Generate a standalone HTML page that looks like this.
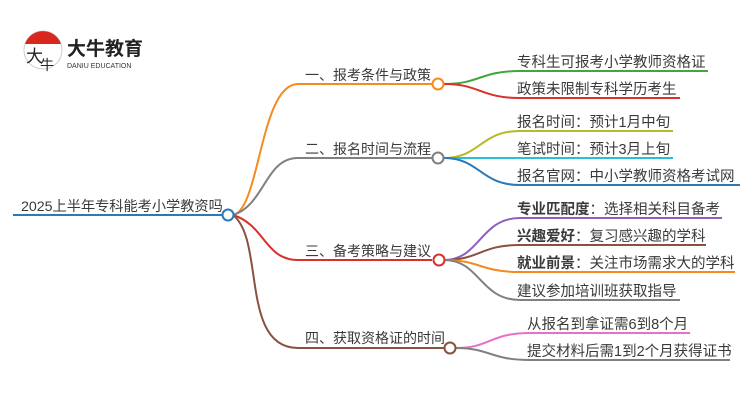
<!DOCTYPE html>
<html><head><meta charset="utf-8"><style>
html,body{margin:0;padding:0;background:#fff;width:750px;height:410px;overflow:hidden}
text{font-family:"Liberation Sans","Noto Sans CJK SC",sans-serif;fill:#3a3a3a;font-size:14.5px}
</style></head><body>
<svg width="750" height="410" viewBox="0 0 750 410" xmlns="http://www.w3.org/2000/svg">
<g>
<circle cx="43" cy="50" r="19" fill="#fff" stroke="#ccc" stroke-width="1"/>
<path d="M25 44 A19 19 0 0 1 61 44 Z" fill="#d8281e"/>
<text x="26" y="62" style="font-size:17px;fill:#222">大</text>
<text x="40" y="70" style="font-size:14px;fill:#222">牛</text>
<text x="67" y="55" style="font-size:19px;font-weight:bold;fill:#222">大牛教育</text>
<text x="67" y="68" style="font-size:7px;fill:#333">DANIU EDUCATION</text>
</g>
<g fill="none" stroke-width="2">
<path d="M13 215 H222" stroke="#2a7ab8"/>
<path d="M233 215 C260 210 260 84 298 84 H432" stroke="#f58b1f"/>
<path d="M233 215 C265 205 265 158 298 158 H432" stroke="#808080"/>
<path d="M233 215 C265 225 265 260 298 260 H432" stroke="#d9302c"/>
<path d="M233 215 C265 240 240 348 298 348 H444" stroke="#8a5040"/>
<path d="M444 84 C480 84 480 71 520 71 H708" stroke="#3ea83a"/>
<path d="M444 84 C480 84 480 98 520 98 H680" stroke="#d9302c"/>
<path d="M444 158 C480 158 480 131 520 131 H673" stroke="#b8b828"/>
<path d="M444 158 H673" stroke="#28c0d8"/>
<path d="M444 158 C480 158 480 185 520 185 H740" stroke="#2a7ab8"/>
<path d="M444 260 C480 260 480 218 520 218 H722" stroke="#9060c0"/>
<path d="M444 260 C480 260 480 245 520 245 H706" stroke="#8a5040"/>
<path d="M444 260 C480 260 480 272 520 272 H735" stroke="#f58b1f"/>
<path d="M444 260 C480 260 480 300 520 300 H680" stroke="#808080"/>
<path d="M456 348 C490 348 490 333 530 333 H690" stroke="#e870c8"/>
<path d="M456 348 C490 348 490 360 530 360 H730" stroke="#808080"/>
</g>
<g fill="#fff" stroke-width="2">
<circle cx="228" cy="215" r="5.5" stroke="#2a7ab8"/>
<circle cx="438" cy="84" r="5.5" stroke="#f58b1f"/>
<circle cx="438" cy="158" r="5.5" stroke="#808080"/>
<circle cx="439" cy="260" r="5.5" stroke="#d9302c"/>
<circle cx="450" cy="348" r="5.5" stroke="#8a5040"/>
</g>
<text x="21" y="211" style="font-size:14.2px">2025上半年专科能考小学教资吗</text>
<text x="305" y="80" style="font-size:14px">一、报考条件与政策</text>
<text x="305" y="154" style="font-size:14px">二、报名时间与流程</text>
<text x="305" y="256" style="font-size:14px">三、备考策略与建议</text>
<text x="305" y="343" style="font-size:14px">四、获取资格证的时间</text>
<text x="517" y="67">专科生可报考小学教师资格证</text>
<text x="517" y="94">政策未限制专科学历考生</text>
<text x="517" y="127">报名时间：预计1月中旬</text>
<text x="517" y="154">笔试时间：预计3月上旬</text>
<text x="517" y="181">报名官网：中小学教师资格考试网</text>
<text x="517" y="214"><tspan font-weight="bold">专业匹配度</tspan>：选择相关科目备考</text>
<text x="517" y="241"><tspan font-weight="bold">兴趣爱好</tspan>：复习感兴趣的学科</text>
<text x="517" y="268"><tspan font-weight="bold">就业前景</tspan>：关注市场需求大的学科</text>
<text x="517" y="296">建议参加培训班获取指导</text>
<text x="527" y="329">从报名到拿证需6到8个月</text>
<text x="527" y="356">提交材料后需1到2个月获得证书</text>
</svg>
</body></html>
